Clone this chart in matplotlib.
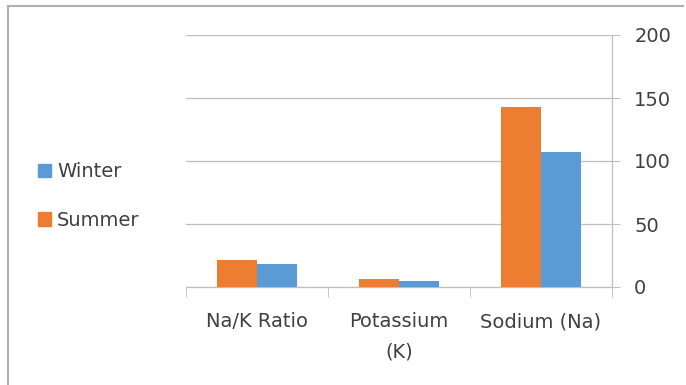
import numpy as np
import matplotlib.pyplot as plt
from matplotlib.lines import Line2D
from matplotlib.patches import Patch

plt.rcParams['font.family'] = ['DejaVu Sans']

categories = ['Na/K Ratio', 'Potassium\n(K)', 'Sodium (Na)']
summer = [21.5, 6, 143]
winter = [18.5, 5, 107]
y_ticks = [0, 50, 100, 150, 200]

orange = '#ED7D31'
blue = '#5B9BD5'
grid_c = '#BFBFBF'
text_c = '#404040'
fs = 14

fig = plt.figure(figsize=(6.86, 3.85), dpi=100)
ax = fig.add_axes([186 / 686, 1 - 287 / 385, (612 - 186) / 686, (287 - 35) / 385])

x = np.arange(len(categories))
w = 0.285
ax.bar(x - w / 2, summer, w, color=orange, zorder=3)
ax.bar(x + w / 2, winter, w, color=blue, zorder=3)

ax.set_xlim(-0.5, len(categories) - 0.5)
ax.set_ylim(0, 200)
ax.set_yticks(y_ticks)
ax.yaxis.tick_right()
ax.tick_params(axis='y', which='both', length=6, direction='out', color=grid_c,
               labelsize=fs, labelcolor=text_c, pad=10)
ax.grid(axis='y', color=grid_c, linewidth=0.9, zorder=0)

ax.set_xticks(x)
ax.set_xticklabels(categories)
ax.tick_params(axis='x', which='major', length=0, labelsize=fs, labelcolor=text_c, pad=18)
ax.set_xticks(np.arange(len(categories) + 1) - 0.5, minor=True)
ax.tick_params(axis='x', which='minor', length=7, color=grid_c, direction='out')
for lab in ax.get_xticklabels():
    lab.set_verticalalignment('top')
    lab.set_linespacing(1.8)

for s in ['top', 'left']:
    ax.spines[s].set_visible(False)
for s in ['right', 'bottom']:
    ax.spines[s].set_color(grid_c)
    ax.spines[s].set_linewidth(0.9)

handles = [Patch(color=blue, label='Winter'), Patch(color=orange, label='Summer')]
fig.legend(handles=handles, loc='center left', bbox_to_anchor=(20 / 686, 1 - 196 / 385),
           frameon=False, fontsize=fs, labelcolor=text_c, handlelength=0.7,
           handleheight=0.7, handletextpad=0.3, labelspacing=1.5)

# outer chart border (left and top edges visible)
fig.add_artist(Line2D([7.5 / 686, 7.5 / 686], [0, 1 - 6 / 385], transform=fig.transFigure,
                      color='#B0B0B0', linewidth=1.5))
fig.add_artist(Line2D([7.5 / 686, 683 / 686], [1 - 6 / 385, 1 - 6 / 385], transform=fig.transFigure,
                      color='#B0B0B0', linewidth=1.5))

fig.savefig('out.png', dpi=100)
